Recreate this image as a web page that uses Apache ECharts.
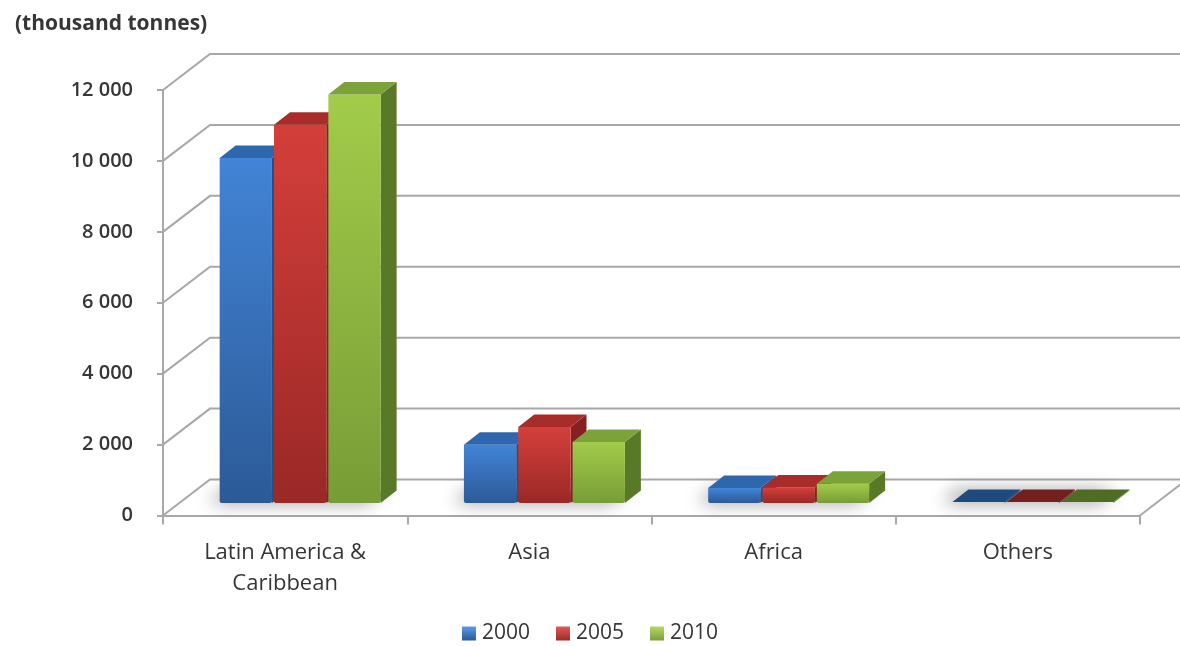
<!DOCTYPE html>
<html>
<head>
<meta charset="utf-8">
<title>Production by region (thousand tonnes)</title>
<script src="https://cdn.jsdelivr.net/npm/echarts@6/dist/echarts.min.js"></script>
<style>
  html, body { margin: 0; padding: 0; background: #ffffff; }
  #chart { width: 1180px; height: 646px; }
</style>
</head>
<body>
<div id="chart"></div>
<script>
// Regions and yearly volumes (thousand tonnes)
const categories = ['Latin America &\nCaribbean', 'Asia', 'Africa', 'Others'];
const years = ['2000', '2005', '2010'];
const values2000 = [9730, 1640, 420, 15];
const values2005 = [10670, 2140, 440, 15];
const values2010 = [11520, 1720, 540, 15];
const yTicks = [0, 2000, 4000, 6000, 8000, 10000, 12000];

const FONT = '"Open Sans", "Liberation Sans", sans-serif';
const TEXT = '#363636';
const WALL_LINE = '#a8a8a8';

// Perspective of the box: how far the back wall sits from the front axis
const WALL_DX = 47, WALL_DY = -36;
// Bars stand a little behind the front edge of the floor
const BAR_SHIFT_X = 0, BAR_SHIFT_Y = -12.5;
const BAR_DX = 16, BAR_DY = -12.5;
const BAR_OFFSET = 0.232, BAR_PITCH = 0.2225, BAR_WIDTH = 0.214;

const palettes = [
  { front: ['#4284d6', '#2c5a97'], side: '#24508a', top: '#2f67ad', flat: '#1f4a80', legend: ['#5d9be6', '#2a5a9a'] },
  { front: ['#d43f3b', '#9a2826'], side: '#86211f', top: '#a82d2a', flat: '#721f1d', legend: ['#e05b57', '#9d2a27'] },
  { front: ['#a2cc4a', '#789c36'], side: '#587a28', top: '#7ba33a', flat: '#4f6c24', legend: ['#b4d965', '#7ba037'] }
];

function frontGradient(p) {
  return new echarts.graphic.LinearGradient(0, 0, 0, 1, [
    { offset: 0, color: p.front[0] },
    { offset: 1, color: p.front[1] }
  ]);
}

function barRenderer(seriesIndex) {
  const pal = palettes[seriesIndex];
  return function (params, api) {
    const cat = api.value(0);
    const val = api.value(1);
    const base = api.coord([cat, 0]);
    const top = api.coord([cat, val]);
    const band = api.size([1, 0])[0];
    const catLeft = base[0] - band / 2;
    const x0 = catLeft + band * (BAR_OFFSET + seriesIndex * BAR_PITCH) + BAR_SHIFT_X;
    const w = band * BAR_WIDTH;
    const yb = base[1] + BAR_SHIFT_Y;
    const yt = Math.min(top[1] + BAR_SHIFT_Y, yb - 1);
    const h = yb - yt;
    const children = [];
    const tall = h > 3;
    // right side face
    children.push({
      type: 'polygon',
      shape: { points: [[x0 + w, yt], [x0 + w + BAR_DX, yt + BAR_DY], [x0 + w + BAR_DX, yb + BAR_DY], [x0 + w, yb]] },
      style: { fill: pal.side }
    });
    // front face
    if (tall) {
      children.push({
        type: 'rect',
        shape: { x: x0, y: yt, width: w, height: h, r: [0, 0, 2, 2] },
        style: { fill: frontGradient(pal) }
      });
    }
    // top face
    children.push({
      type: 'polygon',
      shape: { points: [[x0, yt], [x0 + BAR_DX, yt + BAR_DY], [x0 + w + BAR_DX, yt + BAR_DY], [x0 + w, yt]] },
      style: { fill: tall ? pal.top : pal.flat }
    });
    return { type: 'group', children: children };
  };
}

// Soft floor shadow under each group of bars
function shadowRenderer(params, api) {
  const cat = api.value(0);
  const base = api.coord([cat, 0]);
  const band = api.size([1, 0])[0];
  const catLeft = base[0] - band / 2;
  const xl = catLeft + band * BAR_OFFSET + BAR_SHIFT_X;
  const xr = catLeft + band * (BAR_OFFSET + 2 * BAR_PITCH + BAR_WIDTH) + BAR_SHIFT_X;
  const yb = base[1] + BAR_SHIFT_Y;
  return {
    type: 'polygon',
    shape: { points: [[xl + 2, yb - 1], [xl + BAR_DX, yb + BAR_DY + 1], [xr + BAR_DX - 2, yb + BAR_DY + 1], [xr - 2, yb - 1]] },
    style: {
      fill: 'rgba(90,90,90,0.7)',
      shadowBlur: 18,
      shadowColor: 'rgba(0,0,0,0.7)',
      shadowOffsetX: -12,
      shadowOffsetY: 0
    }
  };
}

// Side-wall diagonals, back-wall gridlines and the floor outline
function wallRenderer(params, api) {
  const v = api.value(0);
  const cs = params.coordSys;
  const y = api.coord([0, v])[1];
  const x0 = cs.x;
  const xEnd = cs.x + cs.width;
  const lineStyle = { stroke: WALL_LINE, lineWidth: 2, fill: null };
  const children = [{
    type: 'polyline',
    shape: { points: [[x0, y], [x0 + WALL_DX, y + WALL_DY], [xEnd + WALL_DX, y + WALL_DY]] },
    style: lineStyle
  }];
  if (v === 0) {
    children.push({
      type: 'line',
      shape: { x1: xEnd, y1: y, x2: xEnd + WALL_DX, y2: y + WALL_DY },
      style: lineStyle
    });
  }
  return { type: 'group', children: children };
}

const chart = echarts.init(document.getElementById('chart'), null, { renderer: 'canvas' });

const seriesValues = [values2000, values2005, values2010];

const option = {
  animation: false,
  backgroundColor: '#ffffff',
  title: {
    text: '(thousand tonnes)',
    left: 10,
    top: 9,
    textStyle: { fontFamily: FONT, fontSize: 21, fontWeight: 'bold', color: TEXT }
  },
  legend: {
    top: 618,
    left: 'center',
    itemWidth: 14,
    itemHeight: 14,
    itemGap: 26,
    icon: 'rect',
    data: years,
    textStyle: { fontFamily: FONT, fontSize: 21, fontWeight: 500, color: TEXT, padding: [0, 0, 0, 1] }
  },
  grid: { left: 163, right: 40, top: 90, bottom: 130.5, containLabel: false },
  xAxis: {
    type: 'category',
    data: categories,
    boundaryGap: true,
    axisLine: { lineStyle: { color: WALL_LINE, width: 2 } },
    axisTick: { show: true, length: 9, lineStyle: { color: WALL_LINE, width: 2 } },
    axisLabel: {
      margin: 22,
      fontFamily: FONT,
      fontSize: 22,
      fontWeight: 500,
      color: TEXT,
      lineHeight: 31,
      interval: 0
    },
    splitLine: { show: false }
  },
  yAxis: {
    type: 'value',
    min: 0,
    max: 12000,
    interval: 2000,
    axisLine: { show: true, lineStyle: { color: WALL_LINE, width: 2 } },
    axisTick: { show: true, length: 6, lineStyle: { color: WALL_LINE, width: 2 } },
    axisLabel: {
      margin: 30,
      fontFamily: FONT,
      fontSize: 20,
      fontWeight: 600,
      color: TEXT,
      formatter: function (v) { return String(v).replace(/\B(?=(\d{3})+(?!\d))/g, ' '); }
    },
    splitLine: { show: false }
  },
  series: [
    {
      name: 'wall',
      type: 'custom',
      renderItem: wallRenderer,
      data: yTicks.map(function (t) { return [t]; }),
      encode: { y: 0 },
      silent: true,
      z: 1,
      clip: false
    },
    {
      name: 'shadow',
      type: 'custom',
      renderItem: shadowRenderer,
      data: categories.map(function (c, i) { return [i, 0]; }),
      encode: { x: 0, y: 1 },
      silent: true,
      z: 2
    }
  ].concat(years.map(function (yr, si) {
    const pal = palettes[si];
    return {
      name: yr,
      type: 'custom',
      renderItem: barRenderer(si),
      data: seriesValues[si].map(function (v, i) { return [i, v]; }),
      encode: { x: 0, y: 1 },
      itemStyle: {
        color: new echarts.graphic.LinearGradient(0, 0, 0, 1, [
          { offset: 0, color: pal.legend[0] },
          { offset: 1, color: pal.legend[1] }
        ])
      },
      z: 3 + si,
      clip: false
    };
  }))
};

chart.setOption(option);
</script>
</body>
</html>
